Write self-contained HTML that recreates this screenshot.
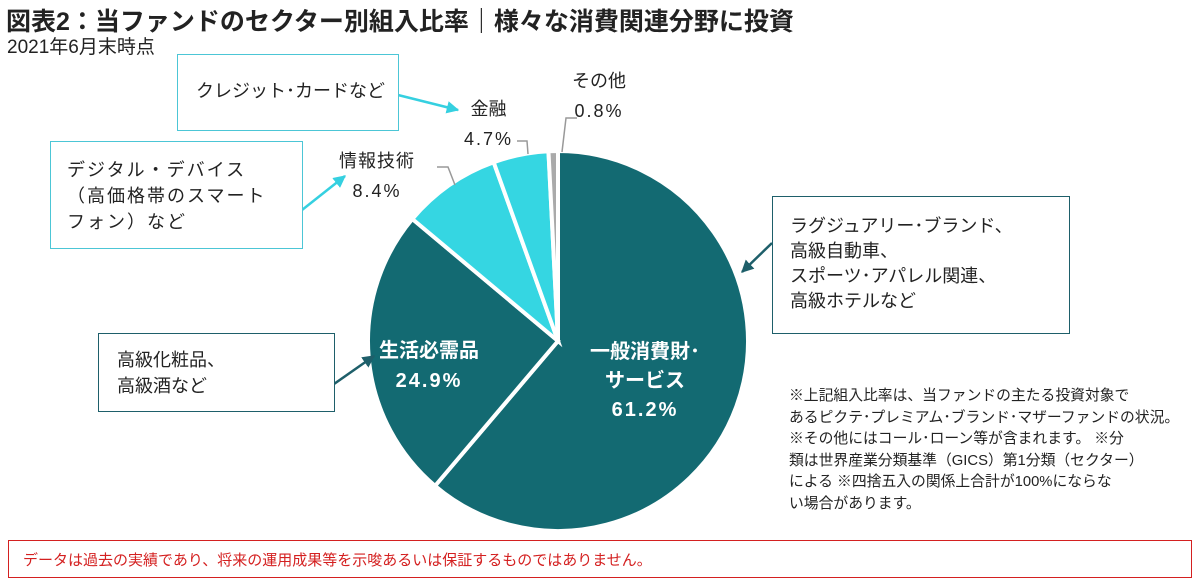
<!DOCTYPE html>
<html><head><meta charset="utf-8">
<style>
body{margin:0;background:#fff;width:1200px;height:587px;overflow:hidden;font-family:"Liberation Sans","Noto Sans CJK JP",sans-serif;color:#222}
.t{position:absolute;white-space:nowrap}
.box{position:absolute;box-sizing:border-box;background:#fff}
.pct{letter-spacing:2px}
</style></head><body>
<div class="t" style="left:6px;top:2px;font-size:25px;font-weight:bold;color:#222">図表2：当ファンドのセクター別組入比率｜様々な消費関連分野に投資</div>
<div class="t" style="left:7px;top:32px;font-size:19px">2021年6月末時点</div>

<svg id="chart" width="1200" height="587" style="position:absolute;left:0;top:0">
<defs>
<marker id="ac" viewBox="0 0 10 10" refX="9" refY="5" markerWidth="5" markerHeight="5" orient="auto"><path d="M0,0L10,5L0,10z" fill="#35D0E0"/></marker>
<marker id="ad" viewBox="0 0 10 10" refX="9" refY="5" markerWidth="5" markerHeight="5" orient="auto"><path d="M0,0L10,5L0,10z" fill="#1E5F6A"/></marker>
</defs>
<g id="slices"></g>
<line x1="398" y1="95" x2="458" y2="110" stroke="#35D0E0" stroke-width="2.5" marker-end="url(#ac)"/>
<line x1="302" y1="210" x2="345" y2="176" stroke="#35D0E0" stroke-width="2.5" marker-end="url(#ac)"/>
<line x1="334" y1="384" x2="374" y2="356" stroke="#1E5F6A" stroke-width="2.5" marker-end="url(#ad)"/>
<line x1="772" y1="243" x2="742" y2="272" stroke="#1E5F6A" stroke-width="2.5" marker-end="url(#ad)"/>
<polyline points="517,141 527,141 528,154" fill="none" stroke="#999" stroke-width="1.5"/>
<polyline points="577,118 566,118 562,152" fill="none" stroke="#999" stroke-width="1.5"/>
<polyline points="437,167 448,167 455,185" fill="none" stroke="#999" stroke-width="1.5"/>
</svg>

<div class="t" style="left:464px;top:94px;font-size:18px;line-height:30px;text-align:center">金融<br><span class="pct">4.7%</span></div>
<div class="t" style="left:572px;top:66px;font-size:18px;line-height:30px;text-align:center">その他<br><span class="pct">0.8%</span></div>
<div class="t" style="left:339px;top:146px;font-size:18px;line-height:30px;text-align:center;letter-spacing:1px">情報技術<br><span class="pct">8.4%</span></div>
<div class="t" style="left:379px;top:336px;font-size:20px;line-height:30px;text-align:center;color:#fff;font-weight:bold">生活必需品<br><span class="pct">24.9%</span></div>
<div class="t" style="left:590px;top:338px;font-size:20px;line-height:29px;text-align:center;color:#fff;font-weight:bold">一般消費財･<br>サービス<br><span class="pct">61.2%</span></div>

<div class="box" style="left:177px;top:54px;width:222px;height:77px;border:1.5px solid #4CC6D6;font-size:18px;padding:22px 0 0 18px">クレジット･カードなど</div>
<div class="box" style="left:50px;top:141px;width:253px;height:108px;border:1.5px solid #4CC6D6;font-size:18px;line-height:26px;padding:15px 0 0 16px;letter-spacing:2px">デジタル・デバイス<br>（高価格帯のスマート<br>フォン）など</div>
<div class="box" style="left:98px;top:333px;width:237px;height:79px;border:1.5px solid #1E5F6A;font-size:18px;line-height:26px;padding:13px 0 0 18px">高級化粧品、<br>高級酒など</div>
<div class="box" style="left:772px;top:196px;width:298px;height:138px;border:1.5px solid #1E5F6A;font-size:18px;line-height:25px;padding:17px 0 0 17px">ラグジュアリー･ブランド、<br>高級自動車、<br>スポーツ･アパレル関連、<br>高級ホテルなど</div>

<div class="t" style="left:789px;top:386px;font-size:14.8px;line-height:21.5px">※上記組入比率は、当ファンドの主たる投資対象で<br>あるピクテ･プレミアム･ブランド･マザーファンドの状況。<br>※その他にはコール･ローン等が含まれます。 ※分<br>類は世界産業分類基準（GICS）第1分類（セクター）<br>による ※四捨五入の関係上合計が100%にならな<br>い場合があります。</div>

<div class="box" style="left:8px;top:540px;width:1184px;height:38px;border:1.5px solid #D42020;color:#D42020;font-size:15px;padding:8px 0 0 14px">データは過去の実績であり、将来の運用成果等を示唆あるいは保証するものではありません。</div>

<script>
const categories = ["一般消費財・サービス","生活必需品","情報技術","金融","その他"];
const values = [61.2, 24.9, 8.4, 4.7, 0.8];
const colors = ["#136A72","#136A72","#35D6E2","#35D6E2","#AAAAAA"];
const cx = 558, cy = 341, r = 190;
const g = document.getElementById('slices');
const total = values.reduce((a,b)=>a+b,0);
let ang = 0;
function pt(a){return [cx + r*Math.sin(a), cy - r*Math.cos(a)];}
values.forEach((v,i)=>{
  const a0 = ang, a1 = ang + v/total*2*Math.PI; ang = a1;
  const p0 = pt(a0), p1 = pt(a1);
  const large = (a1-a0) > Math.PI ? 1 : 0;
  const p = document.createElementNS('http://www.w3.org/2000/svg','path');
  p.setAttribute('d', `M${cx},${cy}L${p0[0]},${p0[1]}A${r},${r} 0 ${large} 1 ${p1[0]},${p1[1]}Z`);
  p.setAttribute('fill', colors[i]);
  p.setAttribute('stroke', '#fff');
  p.setAttribute('stroke-width', '4');
  
  
  g.appendChild(p);
});
</script>
</body></html>
